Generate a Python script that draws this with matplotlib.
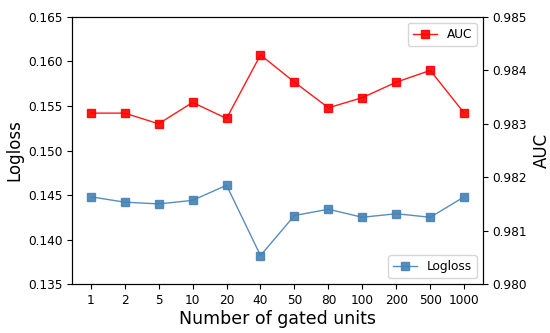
import matplotlib
matplotlib.use("Agg")
from matplotlib import pyplot as plt

units = ["1", "2", "5", "10", "20", "40", "50", "80", "100", "200", "500", "1000"]
logloss = [0.1448, 0.1442, 0.1440, 0.1444, 0.1461, 0.1382,
           0.1427, 0.1434, 0.1425, 0.1429, 0.1425, 0.1448]
auc = [0.9832, 0.9832, 0.9830, 0.9834, 0.9831, 0.98429,
       0.98378, 0.9833, 0.98349, 0.98378, 0.9840, 0.9832]

fig = plt.figure(figsize=(5.5, 3.33), dpi=100)
ax = fig.add_axes([0.131, 0.147, 0.747, 0.802])
x = range(len(units))

ax.plot(x, logloss, "s-", color="steelblue", lw=1, ms=6, alpha=0.9, label="Logloss")
ax.set_ylim(0.135, 0.165)
ax.set_ylabel("Logloss", fontsize=12, labelpad=3)
ax.set_xlabel("Number of gated units", fontsize=12.5, labelpad=2)
ax.set_xticks(list(x))
ax.set_xticklabels(units)
ax.tick_params(labelsize=8.7)
ax.legend(loc="lower right", fontsize=8.7)

ax2 = ax.twinx()
ax2.plot(x, auc, "s-", color="red", lw=1, ms=6, alpha=0.9, label="AUC")
ax2.set_ylim(0.980, 0.985)
ax2.set_yticks([0.980, 0.981, 0.982, 0.983, 0.984, 0.985])
ax2.set_ylabel("AUC", fontsize=12, labelpad=4)
ax2.tick_params(labelsize=8.7)
ax2.legend(loc="upper right", fontsize=8.7)

plt.savefig("out.png", dpi=100)
